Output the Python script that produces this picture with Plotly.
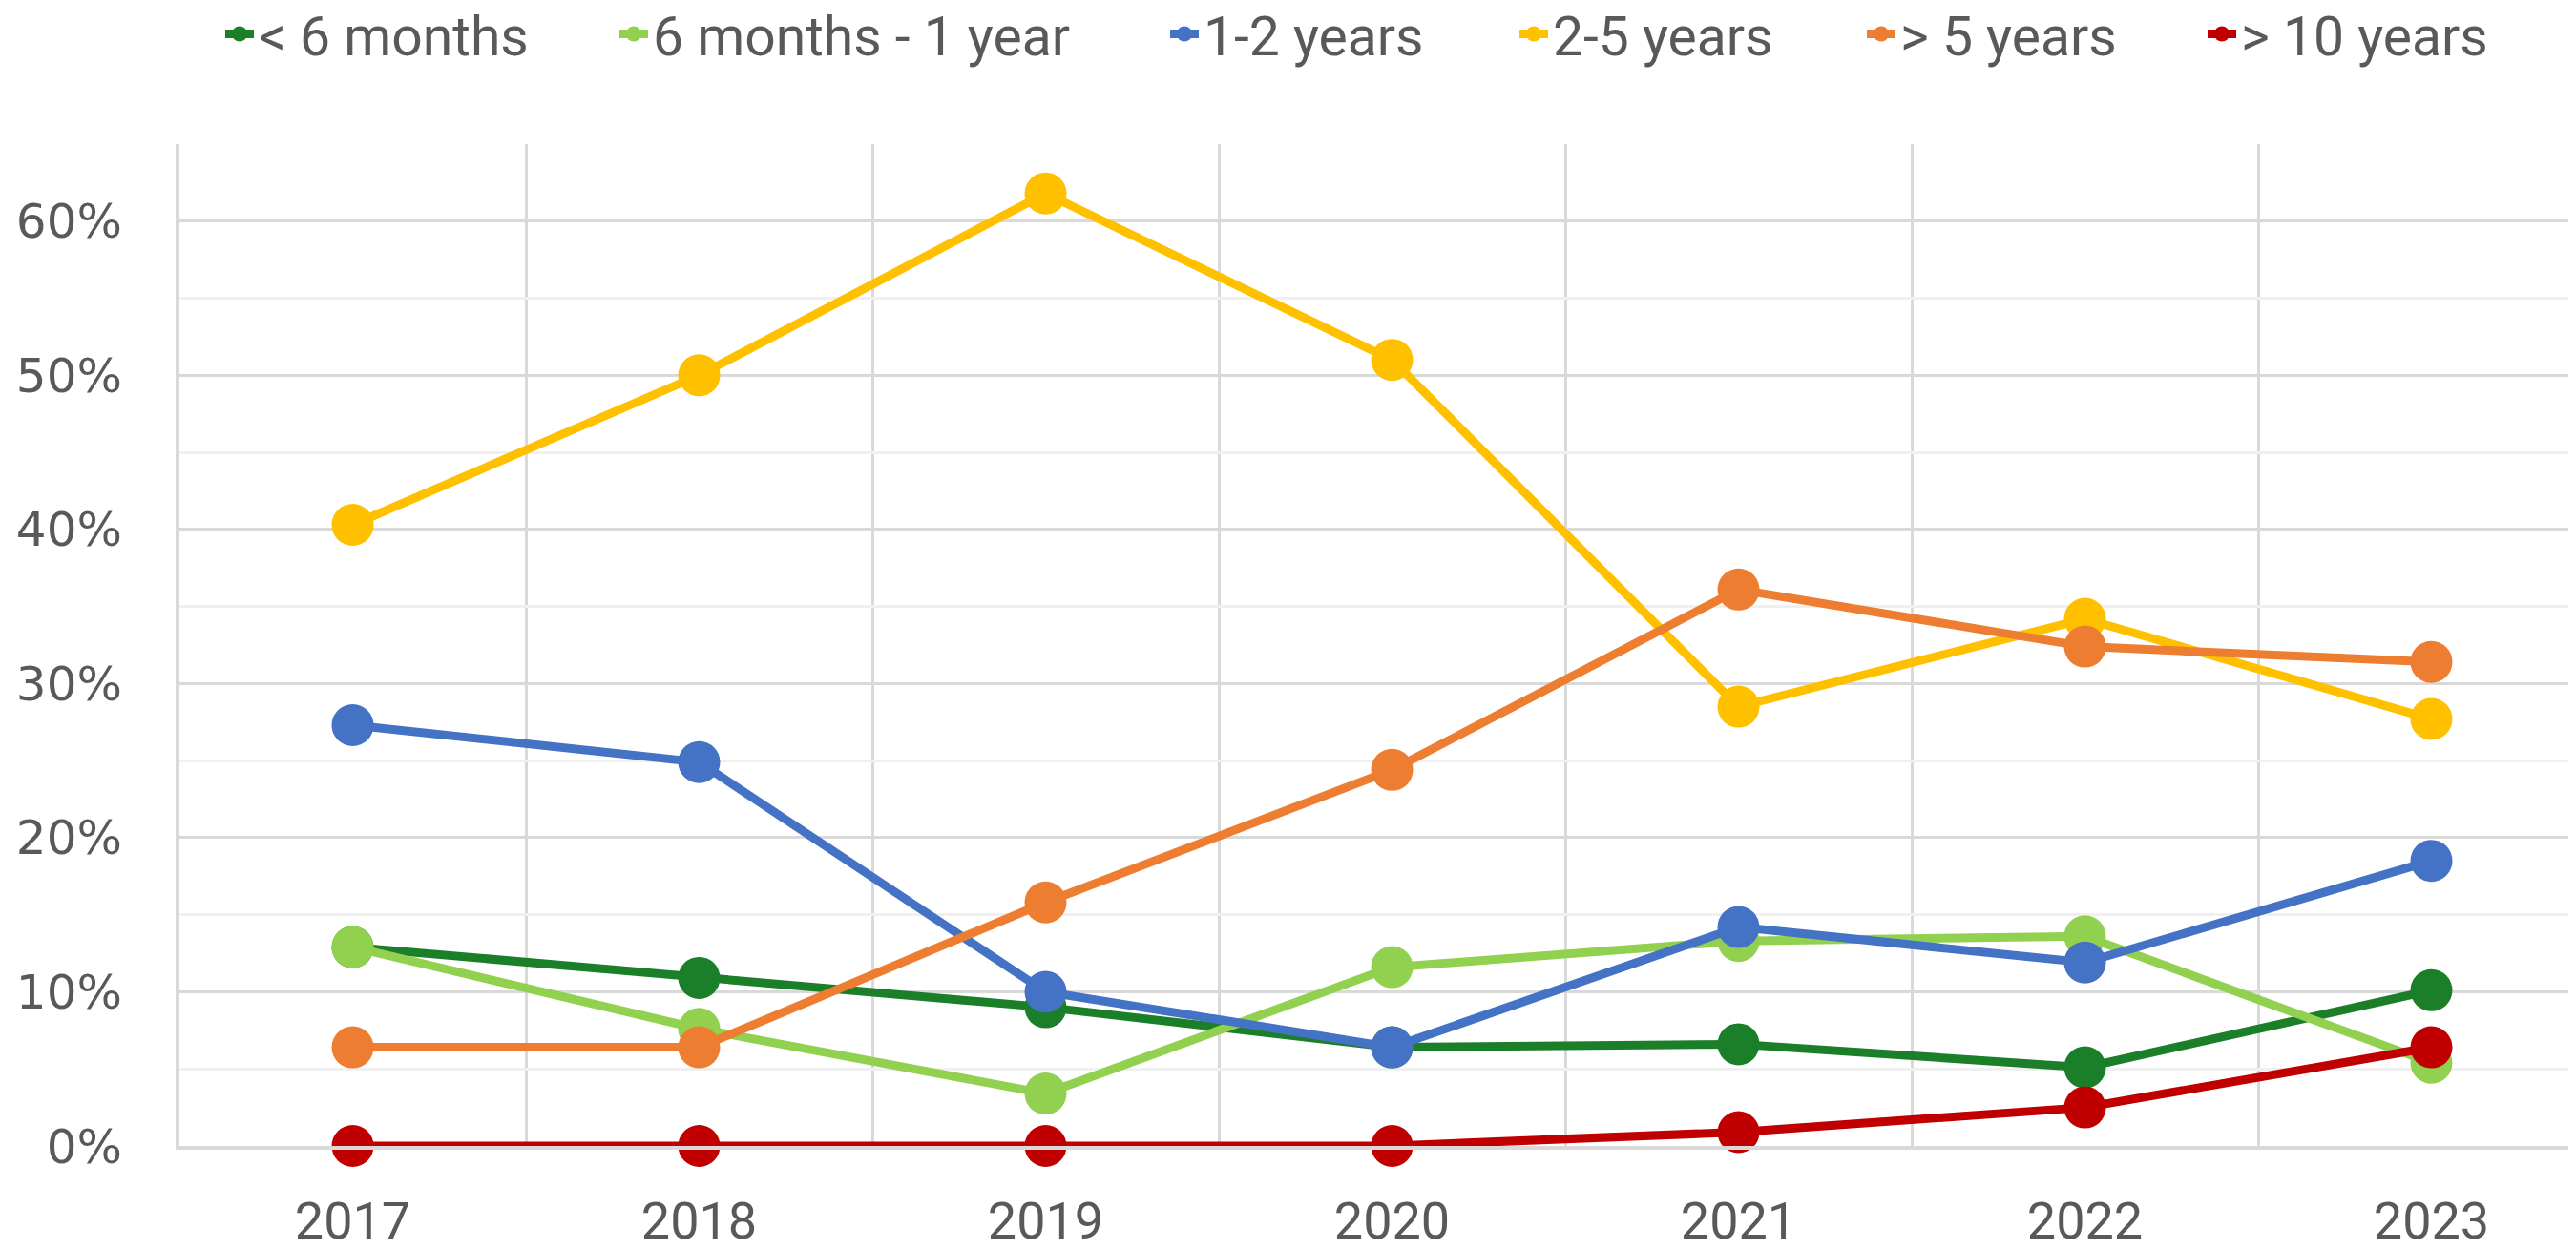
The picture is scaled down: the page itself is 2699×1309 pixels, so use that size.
import plotly.graph_objects as go

years = [2017, 2018, 2019, 2020, 2021, 2022, 2023]

less_6m = [0.129, 0.109, 0.090, 0.064, 0.066, 0.051, 0.101]
m6_1y = [0.129, 0.076, 0.034, 0.116, 0.133, 0.136, 0.054]
y1_2 = [0.273, 0.249, 0.100, 0.064, 0.142, 0.119, 0.185]
y2_5 = [0.403, 0.500, 0.618, 0.510, 0.285, 0.342, 0.277]
more_5 = [0.064, 0.064, 0.158, 0.244, 0.361, 0.324, 0.314]
more_10 = [0.0, 0.0, 0.0, 0.0, 0.009, 0.025, 0.064]

series = [
    ('< 6 months', less_6m, '#1b7f29'),
    ('6 months - 1 year', m6_1y, '#92d050'),
    ('1-2 years', y1_2, '#4472c4'),
    ('2-5 years', y2_5, '#ffc000'),
    ('> 5 years', more_5, '#ed7d31'),
    ('> 10 years', more_10, '#c00000'),
]

# the page body adds an 8px margin, so the figure is a bit smaller than the window
W, H = 2691, 1301

# left edge of each legend entry, in figure pixels
legend_x = [223, 636, 1213, 1579, 1943, 2300]

fig = go.Figure()
legends = {}
for i, (name, vals, color) in enumerate(series):
    lg = 'legend' if i == 0 else 'legend%d' % (i + 1)
    fig.add_trace(go.Scatter(
        x=years, y=vals, name=name, mode='lines+markers',
        line=dict(color=color, width=9),
        marker=dict(color=color, size=44),
        cliponaxis=False,
        legend=lg,
    ))
    legends[lg] = dict(
        orientation='h', xref='container', yref='container',
        x=legend_x[i] / W, xanchor='left', y=0.9785, yanchor='middle',
        font=dict(family='Roboto', size=57, color='#595959'),
        itemsizing='trace', bgcolor='rgba(0,0,0,0)',
    )

fig.update_layout(
    width=W, height=H,
    plot_bgcolor='white', paper_bgcolor='white',
    margin=dict(l=180, r=0, t=143, b=108, autoexpand=False),
    font=dict(family='Roboto', size=54, color='#595959'),
    showlegend=True,
    **legends,
)

fig.update_xaxes(
    range=[2016.5, 2016.5 + (W - 180) / 363],
    tickvals=years, ticktext=[str(y) for y in years],
    showgrid=False,
    minor=dict(tick0=2016.5, dtick=1, showgrid=True, gridcolor='#d9d9d9', gridwidth=3),
    showline=True, linecolor='#d9d9d9', linewidth=4,
    ticks='', ticklabelstandoff=28, automargin=False,
    tickfont=dict(family='Roboto', size=54, color='#595959'),
    zeroline=False,
)

fig.update_yaxes(
    range=[0, 0.65],
    tickvals=[0, 0.1, 0.2, 0.3, 0.4, 0.5, 0.6],
    tickformat='.0%',
    showgrid=True, gridcolor='#d9d9d9', gridwidth=3,
    minor=dict(dtick=0.05, tick0=0, showgrid=True, gridcolor='#f0f0f0', gridwidth=3),
    showline=True, linecolor='#d9d9d9', linewidth=4,
    ticks='', ticklabelstandoff=46, automargin=False,
    tickfont=dict(family='DejaVu Sans', size=50, color='#595959'),
    zeroline=False,
)

fig.write_html('out.html')
